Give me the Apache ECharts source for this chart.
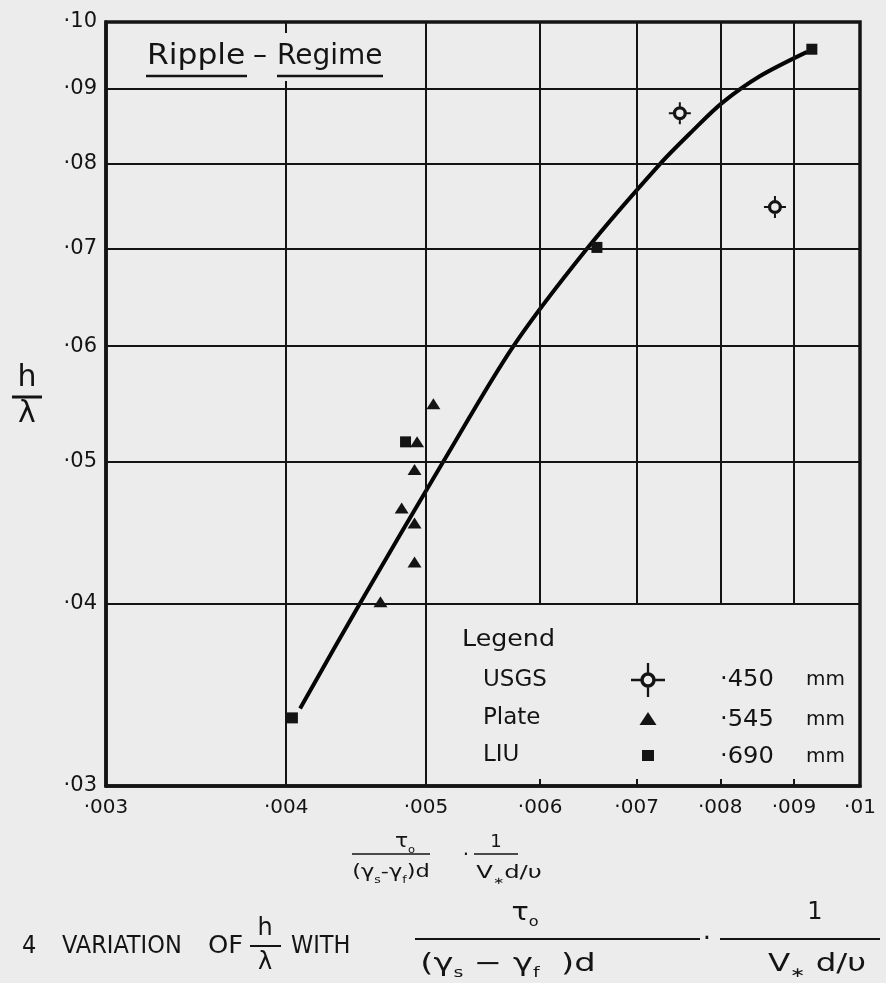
<!DOCTYPE html>
<html><head><meta charset="utf-8">
<script src="https://cdn.jsdelivr.net/npm/echarts@6/dist/echarts.min.js"></script>
<style>html,body{margin:0;padding:0;background:#ececec}#c{width:886px;height:983px}</style>
</head><body><div id="c"></div>
<script>
// ---- data ----
const xTicks = [0.003, 0.004, 0.005, 0.006, 0.007, 0.008, 0.009, 0.01];
const xTickLabels = ['·003', '·004', '·005', '·006', '·007', '·008', '·009', '·01'];
const yTicks = [0.03, 0.04, 0.05, 0.06, 0.07, 0.08, 0.09, 0.10];
const yTickLabels = ['·03', '·04', '·05', '·06', '·07', '·08', '·09', '·10'];

const usgsX = [0.0075, 0.00873];
const usgsY = [0.0866, 0.0747];
const plateX = [0.00506, 0.00493, 0.00491, 0.00481, 0.00491, 0.00491, 0.00465];
const plateY = [0.0548, 0.0516, 0.0494, 0.0465, 0.0454, 0.0427, 0.0401];
const liuX = [0.00404, 0.00484, 0.00657, 0.00926];
const liuY = [0.0334, 0.0516, 0.0701, 0.0958];
const curveX = [0.00409, 0.00450, 0.00514, 0.00575, 0.00647, 0.00727, 0.00766, 0.00802, 0.00852, 0.00919];
const curveY = [0.0339, 0.0400, 0.0500, 0.0600, 0.0700, 0.0800, 0.0843, 0.0880, 0.0918, 0.0954];

const seriesNames = ['USGS', 'Plate', 'LIU'];
const grainSizes = ['·450', '·545', '·690'];
const legendBoxLeft = 0.005, legendBoxTop = 0.04;

// ---- styles ----
const INK = '#141414';
const PAPER = '#ececec';
const FONT = "'DejaVu Sans', 'Open Sans', sans-serif";
const CAPFONT = "'Liberation Sans Narrow', 'DejaVu Sans Condensed', 'Liberation Sans', sans-serif";

const usgsPath = 'path://M36 22A14 14 0 1 0 8 22A14 14 0 1 0 36 22Z M29.5 22A7.5 7.5 0 1 1 14.5 22A7.5 7.5 0 1 1 29.5 22Z M20 0V9H24V0Z M20 35V44H24V35Z M0 20V24H9V20Z M35 20V24H44V20Z';
const usgsLegendPath = 'path://M32 22A10 10 0 1 0 12 22A10 10 0 1 0 32 22Z M27.5 22A5.5 5.5 0 1 1 16.5 22A5.5 5.5 0 1 1 27.5 22Z M20.5 0V13H23.5V0Z M20.5 31V44H23.5V31Z M0 20.5V23.5H13V20.5Z M31 20.5V23.5H44V20.5Z';

const zip = (xs, ys) => xs.map((x, i) => [x, ys[i]]);
const idxOf = (arr, v) => arr.findIndex(t => Math.abs(t - v) / t < 1e-6);

// gridline segments
const xMin = xTicks[0], xMax = xTicks[xTicks.length - 1];
const yMin = yTicks[0], yMax = yTicks[yTicks.length - 1];
const segs = [];
yTicks.slice(1, -1).forEach(y => segs.push([{coord: [xMin, y]}, {coord: [xMax, y]}]));
xTicks.slice(1, -1).forEach(x => {
  const y0 = x > legendBoxLeft ? legendBoxTop : yMin;
  segs.push([{coord: [x, y0]}, {coord: [x, yMax]}]);
});

const chart = echarts.init(document.getElementById('c'), null, {renderer: 'canvas'});

function legendCfg(name, icon, iw, ih, top) {
  return {
    data: [{name: name, icon: icon, itemStyle: {opacity: 1, color: INK}}],
    left: 483, top: top, padding: 0, align: 'right', orient: 'vertical',
    itemWidth: iw, itemHeight: ih, selectedMode: false,
    formatter: n => '{n|' + n + '}',
    textStyle: {rich: {n: {width: 165 - 5 - iw / 2, align: 'left', fontSize: 23, lineHeight: 26, fontFamily: FONT, color: INK}}}
  };
}

const txt = (text, x, y, size, extra, sx) => Object.assign({
  type: 'text', z: 100, x: x, y: y, scaleX: sx || 1,
  style: Object.assign({text: text, fill: INK, fontSize: size, fontFamily: FONT, verticalAlign: 'middle', align: 'left'}, extra || {})
});
const ln = (x1, y1, x2, y2, w) => ({type: 'line', z: 100, shape: {x1, y1, x2, y2}, style: {stroke: INK, lineWidth: w || 2}});

const subRich = (size) => ({
  m: {fontSize: size, fontFamily: FONT, verticalAlign: 'middle', lineHeight: size + 8},
  s: {fontSize: Math.round(size * 0.55), fontFamily: FONT, verticalAlign: 'bottom', lineHeight: size + 8}
});

const graphics = [
  // title
  {type: 'rect', z: 90, shape: {x: 140, y: 33, width: 250, height: 48}, style: {fill: PAPER}},
  txt('Ripple', 147, 57, 28, null, 1.12),
  txt('–', 253, 57, 28),
  txt('Regime', 277, 57, 28),
  ln(146, 76, 247, 76, 2.5),
  ln(277, 76, 383, 76, 2.5),
  // y axis name
  txt('h', 27, 378, 30, {align: 'center'}),
  ln(12, 397, 42, 397, 3),
  txt('λ', 27, 414, 30, {align: 'center'}),
  // legend
  txt('Legend', 462, 640, 23, null, 1.1),
  txt(grainSizes[0], 720, 680, 23, null, 1.05), txt('mm', 806, 680, 20),
  txt(grainSizes[1], 720, 720, 23, null, 1.05), txt('mm', 806, 720, 20),
  txt(grainSizes[2], 720, 757, 23, null, 1.05), txt('mm', 806, 757, 20),
  // x axis name
  txt('{m|τ}{s|o}', 405, 842, 19, {align: 'center', rich: subRich(19)}, 1.15),
  ln(352, 854, 430, 854, 1.5),
  txt('{m|(γ}{s|s}{m|-γ}{s|f}{m|)d}', 391, 872, 18, {align: 'center', rich: subRich(18)}, 1.25),
  txt('·', 466, 856, 20, {align: 'center'}),
  txt('1', 496, 842, 18, {align: 'center'}),
  ln(474, 854, 518, 854, 1.5),
  txt('{m|V}{s|∗}{m|d/υ}', 509, 873, 18, {align: 'center', rich: subRich(18)}, 1.35),
  // caption
  txt('4', 22, 946, 25, {fontFamily: CAPFONT}),
  txt('VARIATION', 62, 946, 25, {fontFamily: CAPFONT}),
  txt('OF', 208, 946, 25, {fontFamily: CAPFONT}, 1.15),
  txt('h', 265, 929, 24, {align: 'center'}),
  ln(250, 946, 281, 946, 2),
  txt('λ', 265, 963, 24, {align: 'center'}),
  txt('WITH', 291, 946, 25, {fontFamily: CAPFONT}),
  txt('{m|τ}{s|o}', 525, 913, 25, {align: 'center', rich: subRich(25)}, 1.15),
  ln(415, 939, 700, 939, 2),
  txt('{m|(γ}{s|s}{m| − γ}{s|f}{m|  )d}', 508, 964, 25, {align: 'center', rich: subRich(25)}, 1.35),
  txt('·', 707, 940, 26, {align: 'center'}),
  txt('1', 815, 913, 24, {align: 'center'}),
  ln(720, 939, 880, 939, 2),
  txt('{m|V}{s|∗}{m| d/υ}', 817, 964, 25, {align: 'center', rich: subRich(25)}, 1.3)
];

const option = {
  backgroundColor: PAPER,
  animation: false,
  grid: {left: 106, right: 26, top: 22, bottom: 197, show: true, borderColor: INK, borderWidth: 3.5, backgroundColor: 'transparent'},
  xAxis: {
    type: 'log', logBase: 10, min: xMin, max: xMax,
    axisLine: {show: true, lineStyle: {color: INK, width: 3.5}},
    axisTick: {show: true, inside: true, length: 7, customValues: xTicks, lineStyle: {color: INK, width: 2}},
    axisLabel: {customValues: xTicks, formatter: v => xTickLabels[idxOf(xTicks, v)] || '', margin: 12, fontSize: 20, color: INK, fontFamily: FONT},
    splitLine: {show: false}, minorTick: {show: false}, minorSplitLine: {show: false}
  },
  yAxis: {
    type: 'log', logBase: 10, min: yMin, max: yMax,
    axisLine: {show: true, lineStyle: {color: INK, width: 3.5}},
    axisTick: {show: false, customValues: yTicks},
    axisLabel: {customValues: yTicks, formatter: v => yTickLabels[idxOf(yTicks, v)] || '', margin: 9, fontSize: 21, color: INK, fontFamily: FONT},
    splitLine: {show: false}, minorTick: {show: false}, minorSplitLine: {show: false}
  },
  legend: [
    legendCfg(seriesNames[0], usgsLegendPath, 34, 34, 663),
    legendCfg(seriesNames[1], 'triangle', 17, 13, 707),
    legendCfg(seriesNames[2], 'rect', 12, 11, 744)
  ],
  graphic: {elements: graphics},
  series: [
    {
      type: 'line', name: 'grid', data: [], silent: true,
      markLine: {silent: true, symbol: ['none', 'none'], label: {show: false}, animation: false,
        lineStyle: {color: INK, width: 2, type: 'solid'}, emphasis: {disabled: true}, data: segs}
    },
    {
      type: 'line', name: 'curve', data: zip(curveX, curveY), smooth: 0.3, showSymbol: false, silent: true,
      lineStyle: {color: '#050505', width: 4}, z: 3
    },
    {type: 'scatter', name: seriesNames[0], data: zip(usgsX, usgsY), symbol: usgsPath, symbolSize: 22, itemStyle: {color: INK, opacity: 1}, z: 4},
    {type: 'scatter', name: seriesNames[1], data: zip(plateX, plateY), symbol: 'triangle', symbolSize: [14, 11], itemStyle: {color: INK, opacity: 1}, z: 4},
    {type: 'scatter', name: seriesNames[2], data: zip(liuX, liuY), symbol: 'rect', symbolSize: [11, 11], itemStyle: {color: INK, opacity: 1}, z: 4}
  ]
};
chart.setOption(option);
</script>
</body></html>
